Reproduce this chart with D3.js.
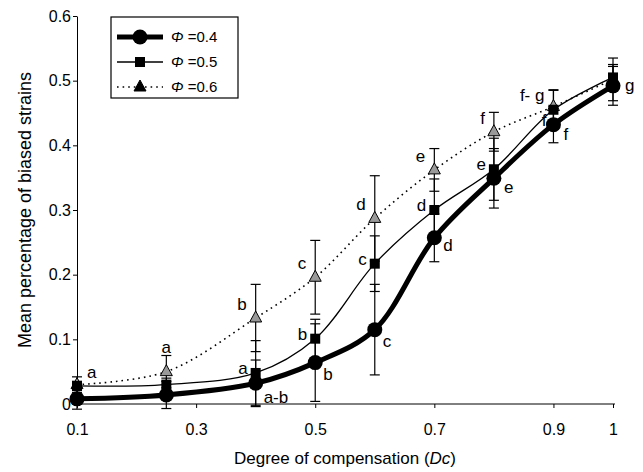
<!DOCTYPE html>
<html>
<head>
<meta charset="utf-8">
<script src="https://cdn.jsdelivr.net/npm/d3@7"></script>
<style>
    body { margin: 0; background: #fff; }
    text { font-family: "Liberation Sans", Arial, sans-serif; fill: #000; }
</style>
</head>
<body>
<div id="chart"></div>
<script>

// x values (degree of compensation)
const dcValues = [0.1, 0.25, 0.4, 0.5, 0.6, 0.7, 0.8, 0.9, 1.0];

// mean percentage of biased strains, per phi
const phi04 = [0.008, 0.014, 0.032, 0.064, 0.115, 0.257, 0.349, 0.432, 0.492];
const phi05 = [0.028, 0.030, 0.048, 0.101, 0.217, 0.300, 0.363, 0.455, 0.505];
const phi06 = [0.030, 0.050, 0.133, 0.196, 0.287, 0.362, 0.421, 0.460, 0.502];

// error bar half-widths
const err04 = [0.016, 0.021, 0.036, 0.060, 0.070, 0.037, 0.046, 0.028, 0.030];
const err05 = [0.007, 0.010, 0.050, 0.030, 0.043, 0.048, 0.048, 0.030, 0.020];
const err06 = [0.012, 0.025, 0.052, 0.057, 0.066, 0.033, 0.030, 0.026, 0.033];

// significance letters
const lab04 = ["", "", "a-b", "b", "c", "d", "e", "f", "g"];
const lab05 = ["", "", "a", "b", "c", "d", "e", "f", ""];
const lab06 = ["a", "a", "b", "c", "d", "e", "f", "f- g", ""];

const legendLabels = ["0.4", "0.5", "0.6"];
const xTicks = [0.1, 0.3, 0.5, 0.7, 0.9, 1];
const yTicks = [0, 0.1, 0.2, 0.3, 0.4, 0.5, 0.6];

const width = 643, height = 472;

const svg = d3.select("#chart").append("svg")
    .attr("width", width)
    .attr("height", height);

// scales
const x = d3.scaleLinear().domain([0.1, 1]).range([77, 613]);
const y = d3.scaleLinear().domain([0, 0.6]).range([404, 16]);

// axes
const xAxis = svg.append("g")
    .attr("transform", `translate(0, ${y(0)})`)
    .call(d3.axisBottom(x).tickValues(xTicks).tickFormat(d => d === 1 ? "1" : d3.format(".1f")(d))
        .tickSize(4).tickSizeOuter(0));
xAxis.select(".domain").attr("d", `M${x(0.1)},0H${x(1) + 2}`);
xAxis.selectAll("text").attr("font-size", 16).attr("dy", "1.5em")
    .style("font-family", "'Liberation Sans', Arial, sans-serif");

const yAxis = svg.append("g")
    .attr("transform", `translate(${x(0.1)}, 0)`)
    .call(d3.axisLeft(y).tickValues(yTicks).tickFormat(d => d === 0 ? "0" : d3.format(".1f")(d))
        .tickSize(4).tickSizeOuter(0));
yAxis.selectAll("text").attr("font-size", 16).attr("x", -6)
    .style("font-family", "'Liberation Sans', Arial, sans-serif");
yAxis.selectAll("path, line").attr("stroke", "#000");
xAxis.selectAll("path, line").attr("stroke", "#000");

// axis titles
const xTitle = svg.append("text")
    .attr("x", 345)
    .attr("y", 464)
    .attr("text-anchor", "middle")
    .attr("font-size", 17);
xTitle.append("tspan").text("Degree of compensation (");
xTitle.append("tspan").attr("font-style", "italic").text("Dc");
xTitle.append("tspan").text(")");

svg.append("text")
    .attr("transform", `translate(31, 210) rotate(-90)`)
    .attr("text-anchor", "middle")
    .attr("font-size", 18)
    .text("Mean percentage of biased strains");

// series definitions
const series = [
    {vals: phi04, err: err04, labels: lab04, width: 5, dash: null, marker: "circle", fill: "#000"},
    {vals: phi05, err: err05, labels: lab05, width: 1.3, dash: null, marker: "square", fill: "#000"},
    {vals: phi06, err: err06, labels: lab06, width: 1.6, dash: "1.6,4", marker: "triangle", fill: "#999"}
];

const line = d3.line()
    .x((d, i) => x(dcValues[i]))
    .y(d => y(d))
    .curve(d3.curveCatmullRom.alpha(0.5));

// error bars
series.forEach(s => {
    const g = svg.append("g").attr("stroke", "#000").attr("stroke-width", 1.2);
    s.vals.forEach((v, i) => {
        let cx = x(dcValues[i]);
        let lo = y(v - s.err[i]), hi = y(v + s.err[i]);
        g.append("line").attr("x1", cx).attr("x2", cx).attr("y1", lo).attr("y2", hi);
        g.append("line").attr("x1", cx - 5).attr("x2", cx + 5).attr("y1", lo).attr("y2", lo);
        g.append("line").attr("x1", cx - 5).attr("x2", cx + 5).attr("y1", hi).attr("y2", hi);
    });
});

// lines
series.slice().reverse().forEach(s => {
    svg.append("path")
        .datum(s.vals)
        .attr("d", line)
        .attr("fill", "none")
        .attr("stroke", "#000")
        .attr("stroke-width", s.width)
        .attr("stroke-dasharray", s.dash);
});

function drawMarker(g, type, cx, cy, fill) {
    if (type === "circle") {
        g.append("circle").attr("cx", cx).attr("cy", cy).attr("r", 7.5).attr("fill", fill);
    } else if (type === "square") {
        g.append("rect").attr("x", cx - 5).attr("y", cy - 5).attr("width", 10).attr("height", 10).attr("fill", fill);
    } else {
        g.append("path")
            .attr("d", `M${cx},${cy - 7}L${cx + 6},${cy + 4}L${cx - 6},${cy + 4}Z`)
            .attr("fill", fill).attr("stroke", "#000").attr("stroke-width", 1);
    }
}

// markers
series.slice().reverse().forEach(s => {
    const g = svg.append("g");
    s.vals.forEach((v, i) => drawMarker(g, s.marker, x(dcValues[i]), y(v), s.fill));
});

// letter placement: [dx, dy, anchor]
function placement(si, i) {
    if (si === 2 && i === 0) return [10, -7, "start"];
    if (si === 2 && i === 1) return [0, -19, "middle"];
    if (si === 2 && i === 7) return [-9, -6, "end"];
    if (si === 1 && i === 7) return [-7, 16, "end"];
    if (si === 0 && i === 8) return [12, 5, "start"];
    if (si === 0 && i === 2) return [8, 20, "start"];
    if (si === 0 && i === 5) return [9, 13, "start"];
    if (si === 0 && (i === 6 || i === 7)) return [10, 15, "start"];
    if (si === 0) return [8, 17, "start"];
    if (si === 1) return [-8, 1, "end"];
    return [-9, -8, "end"];
}

series.forEach((s, si) => {
    s.labels.forEach((t, i) => {
        if (!t) return;
        let p = placement(si, i);
        svg.append("text")
            .attr("x", x(dcValues[i]) + p[0])
            .attr("y", y(s.vals[i]) + p[1])
            .attr("text-anchor", p[2])
            .attr("font-size", 17)
            .text(t);
    });
});

// legend
const legend = svg.append("g").attr("transform", "translate(111, 17)");
legend.append("rect")
    .attr("width", 127).attr("height", 81)
    .attr("fill", "#fff").attr("stroke", "#000").attr("stroke-width", 1.2);

series.forEach((s, i) => {
    let ly = 20 + i * 25;
    legend.append("line")
        .attr("x1", 6).attr("x2", 52).attr("y1", ly).attr("y2", ly)
        .attr("stroke", "#000").attr("stroke-width", s.width)
        .attr("stroke-dasharray", s.dash);
    drawMarker(legend, s.marker, 29, ly, s.marker === "triangle" ? "#000" : s.fill);
    let t = legend.append("text")
        .attr("x", 60).attr("y", ly + 5)
        .attr("font-size", 15);
    t.append("tspan").attr("font-style", "italic").text("\u03A6");
    t.append("tspan").text(" =" + legendLabels[i]);
});

</script>
</body>
</html>
